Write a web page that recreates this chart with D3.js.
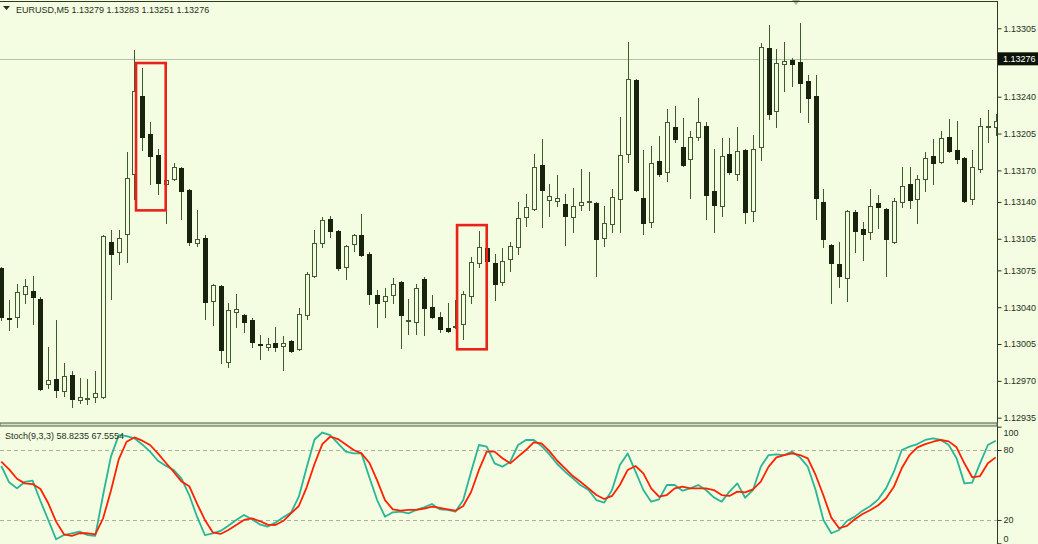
<!DOCTYPE html>
<html><head><meta charset="utf-8">
<script src="https://cdn.jsdelivr.net/npm/d3@7"></script>
<style>
html,body{margin:0;padding:0;background:#f4fce2;overflow:hidden;}
svg{display:block;}
text{font-family:"Liberation Sans",Arial,sans-serif;}
</style></head><body>
<svg id="chart" width="1038" height="544"></svg>
<script>
// ---------- data ----------
const symbolTitle = "EURUSD,M5";
const lastQuote = [1.13279, 1.13283, 1.13251, 1.13276];
const bidPrice = 1.13276;
const priceTicks = [1.13305,1.13240,1.13205,1.13170,1.13140,1.13105,1.13075,1.13040,1.13005,1.12970,1.12935];

const open = [
1.13077,1.13030,1.13031,1.13053,1.13055,1.13048,1.12967,1.12972,1.12960,1.12976,
1.12952,1.12953,1.12955,1.12955,1.13102,1.13092,1.13110,1.13167,1.13241,1.13205,
1.13185,1.13157,1.13162,1.13172,1.13151,1.13101,1.13106,1.13046,1.13060,1.12988,
1.13035,1.13033,1.13028,1.13005,1.13002,1.13006,1.13003,1.13008,1.13000,1.13033,
1.13070,1.13101,1.13124,1.13112,1.13078,1.13100,1.13109,1.13091,1.13052,1.13046,
1.13052,1.13064,1.13027,1.13026,1.13067,1.13040,1.13031,1.13020,1.13021,1.13024,
1.13051,1.13082,1.13096,1.13082,1.13064,1.13086,1.13097,1.13126,1.13133,1.13175,
1.13142,1.13141,1.13138,1.13126,1.13137,1.13141,1.13139,1.13106,1.13119,1.13143,
1.13186,1.13256,1.13144,1.13121,1.13179,1.13168,1.13211,1.13192,1.13181,1.13202,
1.13212,1.13150,1.13136,1.13186,1.13167,1.13189,1.13131,1.13192,1.13286,1.13226,
1.13271,1.13275,1.13273,1.13255,1.13241,1.13140,1.13099,1.13081,1.13068,1.13130,
1.13114,1.13111,1.13139,1.13133,1.13102,1.13140,1.13157,1.13143,1.13162,1.13184,
1.13178,1.13202,1.13189,1.13182,1.13143,1.13171,1.13211,1.13211];
const high = [
1.13078,1.13047,1.13062,1.13067,1.13070,1.13050,1.13002,1.13028,1.12987,1.12979,
1.12973,1.12972,1.12979,1.13109,1.13113,1.13113,1.13187,1.13284,1.13267,1.13216,
1.13190,1.13162,1.13177,1.13173,1.13152,1.13132,1.13109,1.13062,1.13061,1.13044,
1.13053,1.13034,1.13030,1.13014,1.13011,1.13021,1.13013,1.13009,1.13039,1.13073,
1.13113,1.13126,1.13127,1.13113,1.13099,1.13110,1.13129,1.13092,1.13056,1.13058,
1.13068,1.13065,1.13048,1.13062,1.13069,1.13052,1.13035,1.13044,1.13047,1.13055,
1.13088,1.13112,1.13097,1.13091,1.13096,1.13102,1.13140,1.13148,1.13186,1.13200,
1.13157,1.13166,1.13148,1.13153,1.13171,1.13168,1.13140,1.13136,1.13152,1.13221,
1.13292,1.13257,1.13189,1.13193,1.13203,1.13228,1.13231,1.13220,1.13207,1.13239,
1.13216,1.13190,1.13201,1.13201,1.13211,1.13190,1.13204,1.13291,1.13308,1.13285,
1.13292,1.13277,1.13310,1.13261,1.13261,1.13152,1.13100,1.13102,1.13132,1.13132,
1.13121,1.13152,1.13147,1.13134,1.13144,1.13173,1.13173,1.13166,1.13187,1.13200,
1.13207,1.13219,1.13217,1.13183,1.13189,1.13220,1.13227,1.13224];
const low = [
1.13028,1.13018,1.13021,1.13044,1.13024,1.12961,1.12963,1.12955,1.12956,1.12945,
1.12949,1.12948,1.12950,1.12954,1.13048,1.13081,1.13083,1.13143,1.13189,1.13157,
1.13148,1.13120,1.13161,1.13124,1.13099,1.13098,1.13029,1.13023,1.12987,1.12983,
1.13021,1.13016,1.13002,1.12991,1.12999,1.12998,1.12980,1.12997,1.12999,1.13029,
1.13069,1.13097,1.13107,1.13075,1.13067,1.13093,1.13089,1.13043,1.13021,1.13031,
1.13044,1.13001,1.13015,1.13015,1.13014,1.13030,1.13016,1.13016,1.13020,1.13010,
1.13044,1.13078,1.13083,1.13047,1.13061,1.13074,1.13091,1.13117,1.13132,1.13116,
1.13127,1.13136,1.13099,1.13111,1.13132,1.13132,1.13070,1.13098,1.13111,1.13111,
1.13178,1.13150,1.13110,1.13116,1.13165,1.13160,1.13197,1.13174,1.13144,1.13199,
1.13124,1.13111,1.13127,1.13167,1.13161,1.13120,1.13122,1.13180,1.13219,1.13211,
1.13245,1.13250,1.13225,1.13216,1.13124,1.13097,1.13044,1.13059,1.13046,1.13092,
1.13085,1.13105,1.13115,1.13070,1.13101,1.13135,1.13134,1.13120,1.13150,1.13157,
1.13177,1.13187,1.13177,1.13140,1.13138,1.13168,1.13197,1.13204];
const close = [
1.13031,1.13029,1.13054,1.13060,1.13050,1.12962,1.12971,1.12961,1.12975,1.12953,
1.12955,1.12954,1.12958,1.13108,1.13091,1.13106,1.13163,1.13245,1.13202,1.13184,
1.13158,1.13161,1.13173,1.13150,1.13102,1.13105,1.13045,1.13061,1.12999,1.13037,
1.13038,1.13026,1.13007,1.13004,1.13005,1.13002,1.13006,1.12998,1.13034,1.13072,
1.13101,1.13123,1.13112,1.13077,1.13098,1.13109,1.13090,1.13053,1.13044,1.13051,
1.13062,1.13033,1.13028,1.13058,1.13039,1.13031,1.13019,1.13017,1.13022,1.13053,
1.13083,1.13097,1.13084,1.13062,1.13084,1.13098,1.13125,1.13135,1.13173,1.13151,
1.13146,1.13144,1.13127,1.13136,1.13140,1.13141,1.13105,1.13120,1.13145,1.13185,
1.13257,1.13151,1.13120,1.13177,1.13167,1.13216,1.13200,1.13175,1.13202,1.13216,
1.13147,1.13137,1.13184,1.13168,1.13188,1.13130,1.13190,1.13287,1.13224,1.13272,
1.13274,1.13271,1.13253,1.13239,1.13144,1.13105,1.13082,1.13070,1.13131,1.13112,
1.13110,1.13136,1.13135,1.13105,1.13141,1.13155,1.13142,1.13162,1.13182,1.13177,
1.13201,1.13188,1.13181,1.13141,1.13173,1.13212,1.13212,1.13217];

const stochLabel = "Stoch(9,3,3) 58.8235 67.5554";
const stochTicks = [100, 80, 20, 0];
const stochLevels = [80, 20];
const stochK = [
66.3,52.3,47.1,52.6,53.7,36.3,20.0,3.4,7.1,8.6,
10.0,7.1,6.3,41.4,74.3,92.8,92.0,90.0,84.8,78.6,
70.8,66.6,62.9,55.7,41.4,22.8,7.1,8.6,10.6,15.1,
20.0,24.3,20.6,16.3,14.3,17.7,22.3,26.3,40.0,65.0,
89.0,95.0,92.8,85.7,78.6,77.1,77.1,56.6,37.1,22.8,
26.6,27.1,25.7,28.6,30.9,33.7,29.1,28.6,27.1,37.1,
61.4,84.3,82.9,68.6,65.7,70.0,84.3,88.6,88.6,83.4,
76.3,68.0,61.4,55.7,49.7,45.7,37.1,34.9,45.7,67.1,
77.1,61.4,45.7,35.7,37.7,50.0,50.0,45.1,47.1,50.0,
45.7,39.4,35.7,44.3,51.4,39.1,45.7,65.7,75.7,76.3,
75.7,78.6,73.7,65.7,45.7,20.0,8.6,11.4,19.1,22.9,
28.0,32.0,37.7,47.1,61.4,80.0,82.9,85.1,88.6,90.0,
88.6,84.3,72.9,51.4,52.0,68.6,84.3,88.0];
const stochD = [
70.0,63.4,55.4,51.4,50.8,46.6,34.3,18.6,7.7,6.3,
8.6,8.6,7.7,21.4,45.0,72.0,87.1,90.8,88.0,84.3,
77.1,69.1,61.4,53.1,49.0,34.0,20.0,9.4,8.0,11.4,
15.7,20.0,21.4,19.1,16.0,15.7,19.1,25.7,32.0,48.0,
68.0,85.0,91.4,89.4,84.8,80.0,77.1,69.1,54.0,37.0,
29.1,28.0,28.6,28.6,29.7,31.4,30.3,29.1,28.0,32.0,
44.0,62.9,78.6,78.6,72.9,68.6,74.3,80.0,86.6,85.7,
79.1,70.8,64.3,57.7,52.6,47.1,41.4,38.0,40.6,50.0,
62.9,66.3,60.0,47.1,40.0,41.4,47.1,48.6,47.1,47.1,
47.1,45.7,41.4,40.6,44.3,43.7,46.3,52.9,65.7,73.7,
75.7,77.1,75.7,72.9,58.6,41.0,22.0,12.9,14.9,20.6,
25.1,28.6,32.6,38.6,48.6,64.3,75.7,82.3,85.1,87.1,
88.6,87.4,82.3,68.6,56.6,57.7,68.6,73.7];

// annotation rectangles (bar index range + price range)
const highlightFrom = [18, 59];
const highlightTo = [20, 61];
const highlightTop = [1.13272, 1.13118];
const highlightBottom = [1.13132, 1.13000];

// ---------- layout / style ----------
const W = 1038, H = 544;
const axisX = 997;
const mainTop = 1, mainBottom = 422.5;
const subTop = 427, subBottom = 544;
const BG = "#f4fce2";
const WICK = "#3d5c2c";
const BEAR = "#18230e";
const TXT = "#24321a";

const svg = d3.select("#chart");
svg.append("rect").attr("width", W).attr("height", H).attr("fill", BG);

const n = open.length;
const bars = d3.range(n).map(i => ({i, o: open[i], h: high[i], l: low[i], c: close[i]}));

const x = d3.scaleLinear().domain([0, n - 1]).range([1.3, 995.7]);
const y = d3.scaleLinear().domain([1.12935, 1.13305]).range([417.7, 28.3]);
const ys = d3.scaleLinear().domain([0, 100]).range([543.3, 426.7]);

const defs = svg.append("defs");
defs.append("clipPath").attr("id", "clipMain").append("rect")
  .attr("x", 0).attr("y", mainTop + 1).attr("width", axisX).attr("height", mainBottom - mainTop - 1);
defs.append("clipPath").attr("id", "clipSub").append("rect")
  .attr("x", 0).attr("y", subTop).attr("width", axisX).attr("height", subBottom - subTop);

// ---------- main panel ----------
const gMain = svg.append("g").attr("clip-path", "url(#clipMain)");

// bid line
gMain.append("line")
  .attr("x1", 0).attr("x2", axisX)
  .attr("y1", Math.round(y(bidPrice)) + 0.5).attr("y2", Math.round(y(bidPrice)) + 0.5)
  .attr("stroke", "#b4c3a2").attr("stroke-width", 1);

const cx = d => Math.round(x(d.i)) + 0.5;

const candle = gMain.append("g").selectAll("g").data(bars).join("g");
candle.append("line")
  .attr("x1", cx).attr("x2", cx)
  .attr("y1", d => Math.round(y(d.h)))
  .attr("y2", d => Math.round(y(d.l)) + 1)
  .attr("stroke", WICK).attr("stroke-width", 1);

candle.each(function(d) {
  const g = d3.select(this);
  const yo = Math.round(y(d.o)), yc = Math.round(y(d.c));
  const top = Math.min(yo, yc), bot = Math.max(yo, yc);
  const bull = d.c >= d.o;
  if (bot - top < 2) {
    g.append("rect")
      .attr("x", cx(d) - 2).attr("y", top + 0.5)
      .attr("width", 4).attr("height", Math.max(bot - top, 1))
      .attr("fill", bull ? BG : BEAR)
      .attr("stroke", bull ? WICK : BEAR).attr("stroke-width", 1);
  } else {
    g.append("rect")
      .attr("x", cx(d) - 2).attr("y", top + 0.5)
      .attr("width", 4).attr("height", bot - top)
      .attr("fill", bull ? BG : BEAR)
      .attr("stroke", bull ? WICK : BEAR).attr("stroke-width", 1);
  }
});

// highlight boxes
gMain.append("g").selectAll("rect").data(highlightFrom).join("rect")
  .attr("x", (d, k) => x(highlightFrom[k]) - 6.2)
  .attr("width", (d, k) => x(highlightTo[k]) - x(highlightFrom[k]) + 14)
  .attr("y", (d, k) => y(highlightTop[k]))
  .attr("height", (d, k) => y(highlightBottom[k]) - y(highlightTop[k]))
  .attr("fill", "none").attr("stroke", "#e8231a").attr("stroke-width", 2.6);

// price axis
const yAxis = d3.axisRight(y).tickValues(priceTicks).tickSize(4).tickPadding(2)
  .tickFormat(d3.format(".5f"));
const gy = svg.append("g").attr("transform", `translate(${axisX + 0.5},0)`).call(yAxis);
gy.select(".domain").remove();
gy.selectAll(".tick line").attr("stroke", TXT);
gy.selectAll(".tick text").attr("fill", TXT).attr("font-size", 9)
  .attr("font-family", '"Liberation Sans",Arial,sans-serif');

// bid label
const by = y(bidPrice);
svg.append("rect").attr("x", axisX + 1).attr("y", by - 6.5).attr("width", W - axisX - 1).attr("height", 13)
  .attr("fill", "#0c1206");
svg.append("text").attr("x", axisX + 6).attr("y", by + 3.3).text(d3.format(".5f")(bidPrice))
  .attr("fill", "#ffffff").attr("font-size", 9);

// title
svg.append("path").attr("d", "M3,6 L10,6 L6.5,10 Z").attr("fill", TXT);
svg.append("text").attr("x", 16).attr("y", 12.5)
  .text(symbolTitle + "  " + lastQuote.map(d3.format(".5f")).join(" "))
  .attr("fill", TXT).attr("font-size", 9);

// shift marker at the top
svg.append("path").attr("d", "M792,0 L800,0 L796,5 Z").attr("fill", "#a7b19c");

// ---------- sub panel (stochastic) ----------
const gSub = svg.append("g").attr("clip-path", "url(#clipSub)");
gSub.selectAll("line.lvl").data(stochLevels).join("line").attr("class", "lvl")
  .attr("x1", 0).attr("x2", axisX)
  .attr("y1", d => Math.round(ys(d)) + 0.5).attr("y2", d => Math.round(ys(d)) + 0.5)
  .attr("stroke", "#aab39e").attr("stroke-width", 1).attr("stroke-dasharray", "4,3");

const line = d3.line().x((d, i) => x(i)).y(d => ys(d));
gSub.append("path").datum(stochK).attr("d", line)
  .attr("fill", "none").attr("stroke", "#2bb597").attr("stroke-width", 1.8).attr("stroke-linejoin", "round");
gSub.append("path").datum(stochD).attr("d", line)
  .attr("fill", "none").attr("stroke", "#ff2200").attr("stroke-width", 1.8).attr("stroke-linejoin", "round");

svg.append("text").attr("x", 5).attr("y", 439).text(stochLabel)
  .attr("fill", TXT).attr("font-size", 9);

const sAxis = d3.axisRight(ys).tickValues(stochTicks).tickSize(4).tickPadding(2);
const gs = svg.append("g").attr("transform", `translate(${axisX + 0.5},0)`).call(sAxis);
gs.select(".domain").remove();
gs.selectAll(".tick line").attr("stroke", TXT);
gs.selectAll(".tick text").attr("fill", TXT).attr("font-size", 9)
  .attr("font-family", '"Liberation Sans",Arial,sans-serif')
  .attr("dy", d => d === 100 ? "0.95em" : d === 0 ? "-0.25em" : "0.32em");

// ---------- frames ----------
svg.append("line").attr("x1", 0).attr("x2", axisX).attr("y1", 1.5).attr("y2", 1.5)
  .attr("stroke", "#2c3a22").attr("stroke-width", 1);
svg.append("line").attr("x1", axisX + 0.5).attr("x2", axisX + 0.5).attr("y1", 1).attr("y2", H)
  .attr("stroke", "#2c3a22").attr("stroke-width", 1);
svg.append("rect").attr("x", 0).attr("y", 423).attr("width", axisX).attr("height", 3)
  .attr("fill", "#d7e0c8").attr("stroke", "#687a58").attr("stroke-width", 1.2);
</script>
</body></html>
